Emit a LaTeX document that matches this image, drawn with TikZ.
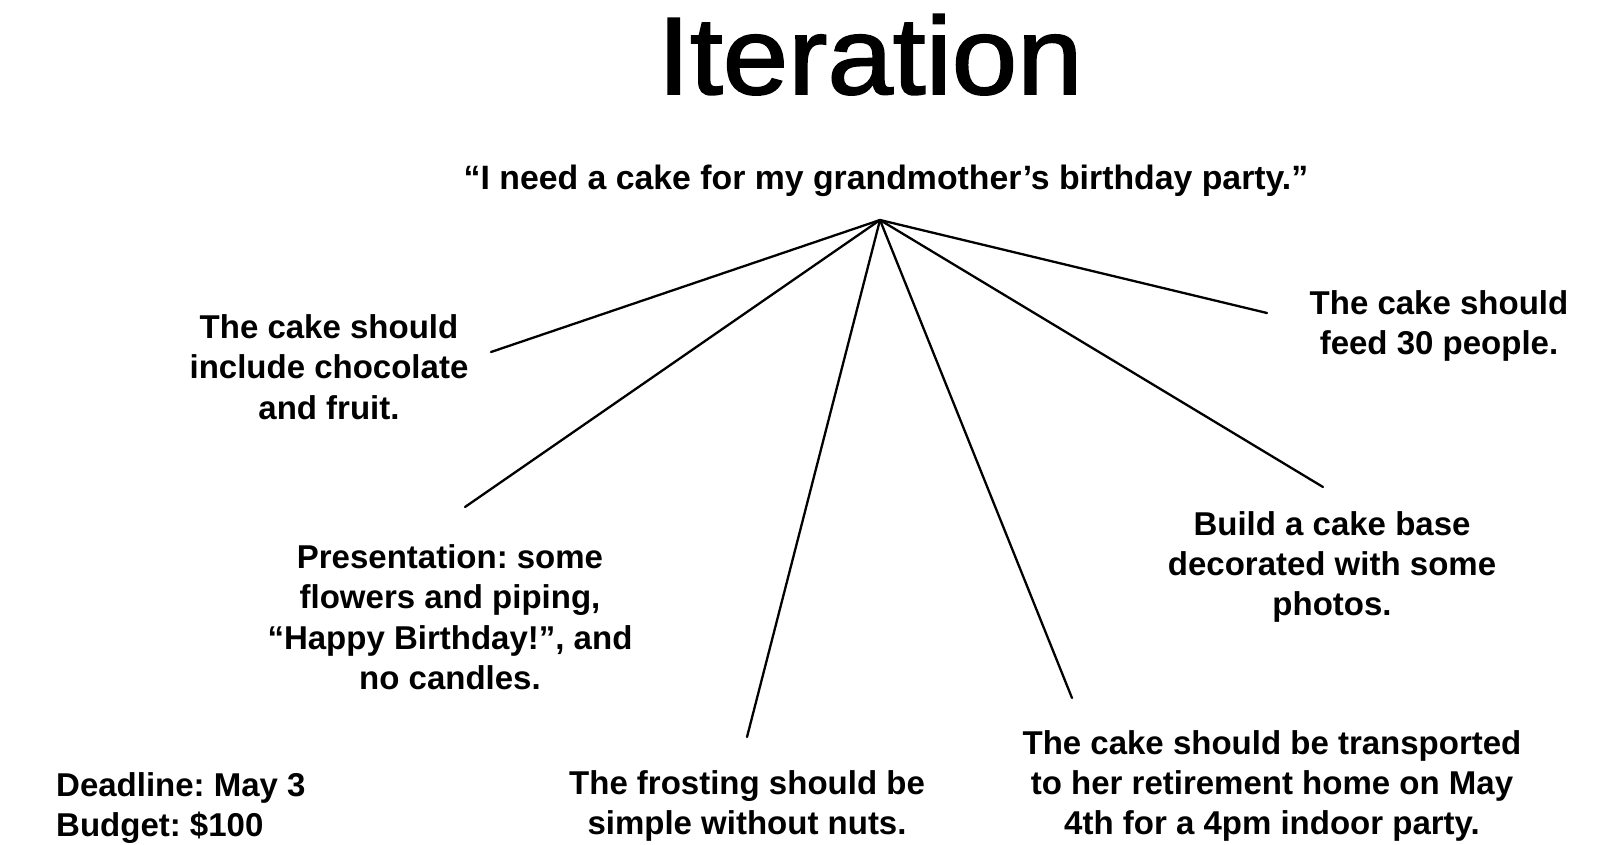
\documentclass[tikz,border=0pt]{standalone}
\usepackage{fontspec}
\usepackage{graphicx}
\setmainfont{Liberation Sans}
\newfontfamily\titlefont[FakeBold=1.6]{Liberation Sans}
\begin{document}
\frenchspacing
\begin{tikzpicture}[x=1pt,y=-1pt,
  item/.style={align=center,inner sep=0pt,font=\fontsize{33}{40.4}\selectfont\bfseries},
  spoke/.style={line width=2.3pt,line cap=round}]
\useasboundingbox[fill=white] (0,0) rectangle (1604,844);
% title and request
\node[anchor=base,inner sep=0pt,font=\fontsize{110}{120}\titlefont] (title) at (870,94) {\scalebox{1.07}[1]{Iteration}};
\node[anchor=base,inner sep=0pt,font=\fontsize{33.8}{40}\selectfont\bfseries] (quote) at (886,189)
  {“I need a cake for my grandmother’s birthday party.”};
% requirement texts
\node[item] (choc) at (329,367) {The cake should\\include chocolate\\and fruit.};
\node[item] (pres) at (450,617) {Presentation: some\\flowers and piping,\\“Happy Birthday!”, and\\no candles.};
\node[item] (frost) at (747,806) {The frosting should be\\simple without nuts.};
\node[item] (trans) at (1272,786) {The cake should be transported\\to her retirement home on May\\4th for a 4pm indoor party.};
\node[item] (base) at (1332,567) {Build a cake base\\decorated with some\\photos.};
\node[item] (feed) at (1439,326) {The cake should\\feed 30 people.};
\node[item,align=left,anchor=west] (limits) at (56,808) {Deadline: May 3\\Budget: \$100};
% spokes
\coordinate (hub) at (880,220);
\coordinate (e1) at (491,352);
\coordinate (e2) at (465,507);
\coordinate (e3) at (747,737);
\coordinate (e4) at (1072,698);
\coordinate (e5) at (1323,487);
\coordinate (e6) at (1267,313);
\foreach \e in {e1,e2,e3,e4,e5,e6} \draw[spoke] (hub) -- (\e);
\end{tikzpicture}
\end{document}
